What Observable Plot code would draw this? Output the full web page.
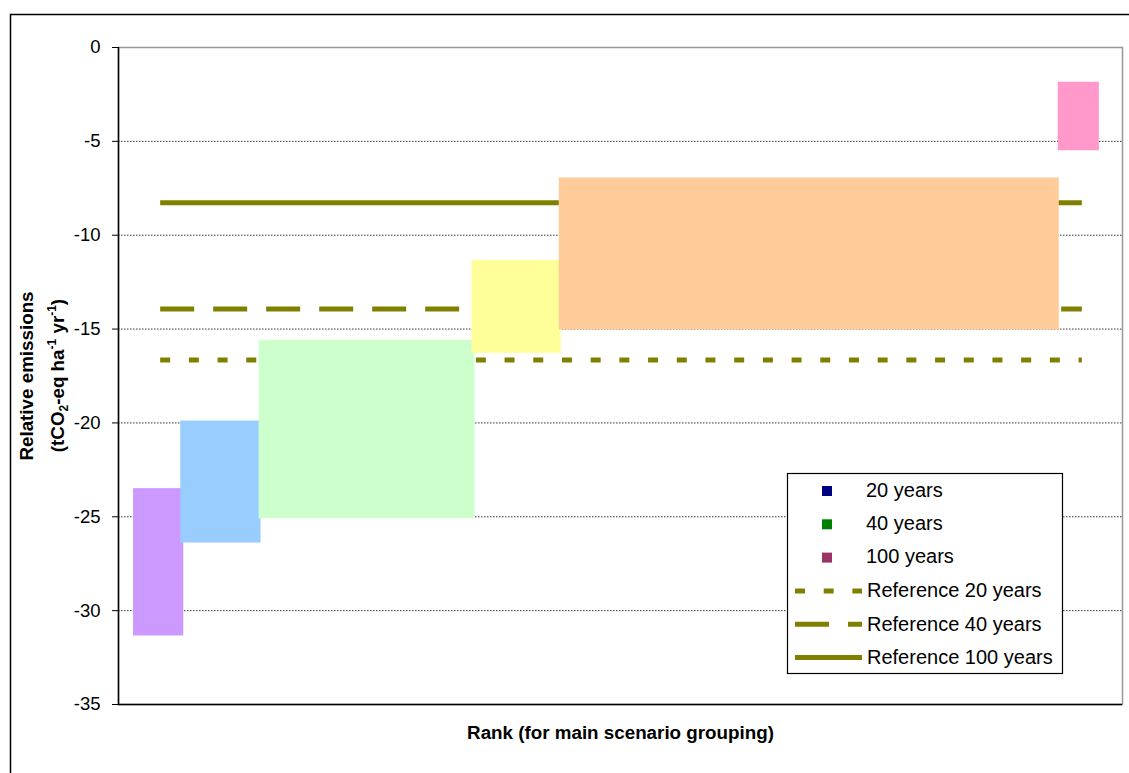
<!DOCTYPE html>
<html>
<head>
<meta charset="utf-8">
<script src="https://cdn.jsdelivr.net/npm/d3@7"></script>
<script src="https://cdn.jsdelivr.net/npm/@observablehq/plot@0.6"></script>
<style>
  html, body { margin: 0; padding: 0; background: #fff; overflow: hidden; }
  #chart { position: relative; width: 1129px; height: 773px; }
</style>
</head>
<body>
<div id="chart"></div>
<script>
// Scenario groups, ordered by rank: extent along the rank axis and range of relative emissions
const groupName  = ["Group 1", "Group 2", "Group 3", "Group 4", "Group 5", "Group 6"];
const groupStart = [1.5, 6.2, 14.0, 35.2, 43.9, 93.6];
const groupEnd   = [6.5, 14.2, 35.5, 44.1, 93.7, 97.7];
const groupHigh  = [-23.5, -19.9, -15.6, -11.35, -6.95, -1.85];
const groupLow   = [-31.35, -26.4, -25.1, -16.3, -15.05, -5.5];
const groupColor = ["#CC99FF", "#99CCFF", "#CCFFCC", "#FFFF99", "#FFCC99", "#FF99CC"];

// Reference emission levels
const refSeries = ["Reference 20 years", "Reference 40 years", "Reference 100 years"];
const refValue  = [-16.65, -13.93, -8.27];
const refDash   = ["10,18.7", "34,19", null];
const refRankStart = 4.2;
const refRankEnd = 96.0;

// Time-horizon series shown in the key
const horizonSeries = ["20 years", "40 years", "100 years"];
const horizonColor  = ["#000080", "#008000", "#993366"];

// Axis
const yTicks = [0, -5, -10, -15, -20, -25, -30, -35];
const yGrid  = [-5, -10, -15, -20, -25, -30];

const olive = "#808000";
const font = "Liberation Sans, Arial, Helvetica, sans-serif";

const groups = groupName.map((name, i) => ({
  name, x1: groupStart[i], x2: groupEnd[i], y1: groupLow[i], y2: groupHigh[i], color: groupColor[i]
}));
const refs = refSeries.map((name, i) => ({name, value: refValue[i], dash: refDash[i]}));

const chart = Plot.plot({
  width: 1129,
  height: 773,
  marginLeft: 118,
  marginRight: 7,
  marginTop: 47,
  marginBottom: 69,
  style: {fontFamily: font, fontSize: "18.5px", color: "#000", background: "#fff"},
  x: {domain: [0, 100], axis: null},
  y: {domain: [-35, 0], axis: null},
  marks: [
    Plot.frame({stroke: "#999", strokeWidth: 1.5}),
    Plot.ruleY(yGrid, {stroke: "#333", strokeWidth: 1, strokeDasharray: "1.5,1.5"}),
    ...refs.map(r => Plot.ruleY([r], {
      y: "value", x1: refRankStart, x2: refRankEnd,
      stroke: olive, strokeWidth: 5, strokeDasharray: r.dash
    })),
    Plot.rect(groups, {x1: "x1", x2: "x2", y1: "y1", y2: "y2", fill: "color"}),
    Plot.ruleX([0], {stroke: "#000", strokeWidth: 1.5}),
    Plot.ruleY([-35], {stroke: "#000", strokeWidth: 1.5}),
    Plot.axisY({
      ticks: yTicks, tickFormat: d => String(d), tickSize: 6, tickPadding: 12,
      fontSize: 18.5, stroke: "#000", label: null
    }),
    Plot.text(["Rank (for main scenario grouping)"], {
      frameAnchor: "bottom", dy: 34, fontSize: 18.8, fontWeight: "bold", fill: "#000"
    }),
    Plot.text(["Relative emissions"], {
      frameAnchor: "left", textAnchor: "middle", dx: -92, rotate: -90,
      fontSize: 18.8, fontWeight: "bold", fill: "#000"
    })
  ]
});

document.getElementById("chart").appendChild(chart);
const svg = d3.select(chart);

// Outer border
svg.append("path")
  .attr("d", "M10.5,773V14.5H1129")
  .attr("fill", "none").attr("stroke", "#000").attr("stroke-width", 1.5);

// Second line of the y-axis title, with subscript and superscripts
const unit = svg.append("g")
  .attr("transform", "translate(57,375.5) rotate(-90)")
  .append("text")
  .attr("text-anchor", "middle")
  .attr("dy", "0.35em")
  .attr("font-family", font)
  .attr("font-weight", "bold")
  .attr("font-size", 18.8)
  .attr("fill", "#000");
unit.append("tspan").text("(tCO");
unit.append("tspan").attr("font-size", 12).attr("dy", 4).text("2");
unit.append("tspan").attr("dy", -4).text("-eq ha");
unit.append("tspan").attr("font-size", 12).attr("dy", -8).text("-1");
unit.append("tspan").attr("dy", 8).text(" yr");
unit.append("tspan").attr("font-size", 12).attr("dy", -8).text("-1");
unit.append("tspan").attr("dy", 8).text(")");

// Key
const key = svg.append("g")
  .attr("font-family", font).attr("font-size", 20).attr("text-anchor", "start");
key.append("rect")
  .attr("x", 787.5).attr("y", 473.5).attr("width", 275).attr("height", 200)
  .attr("fill", "#fff").attr("stroke", "#000").attr("stroke-width", 1.2);
const rowY = i => 491 + i * 33.3;
horizonSeries.forEach((name, i) => {
  key.append("rect")
    .attr("x", 822).attr("y", rowY(i) - 5).attr("width", 10).attr("height", 10)
    .attr("fill", horizonColor[i]);
  key.append("text")
    .attr("x", 866).attr("y", rowY(i) + 5.5)
    .attr("text-anchor", "start").attr("font-size", 20).attr("fill", "#000")
    .text(name);
});
refs.forEach((r, j) => {
  const i = j + 3;
  key.append("line")
    .attr("x1", 795).attr("x2", 862).attr("y1", rowY(i)).attr("y2", rowY(i))
    .attr("stroke", olive).attr("stroke-width", 5)
    .attr("stroke-dasharray", r.dash);
  key.append("text")
    .attr("x", 867).attr("y", rowY(i) + 6.5)
    .attr("text-anchor", "start").attr("font-size", 20).attr("fill", "#000")
    .text(r.name);
});
</script>
</body>
</html>
